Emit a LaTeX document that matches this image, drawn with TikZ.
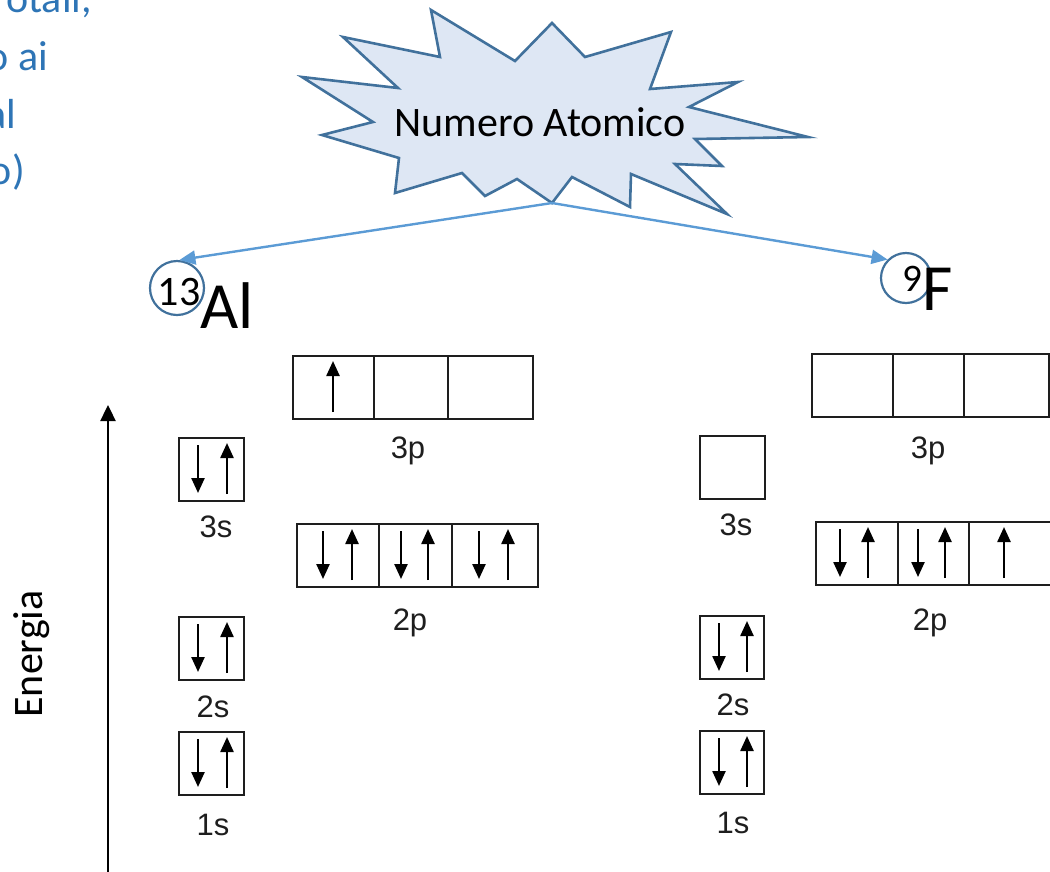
\documentclass[tikz,border=0pt]{standalone}
\usepackage{fontspec}
\setmainfont{Carlito}
\newfontfamily\arialf{Liberation Sans}
\usetikzlibrary{arrows.meta,calc}
\definecolor{bluetxt}{HTML}{2E75B6}
\definecolor{starfill}{HTML}{DEE7F4}
\definecolor{stardraw}{HTML}{41719C}
\definecolor{arrowblue}{HTML}{5B9BD5}
\definecolor{boxline}{HTML}{1E1E1E}
\newcommand\spindn[2]{\draw[spin] (#1,#2+8) -- (#1,#2+56);}
\newcommand\spinup[2]{\draw[spin] (#1,#2+57) -- (#1,#2+6);}
\begin{document}
\begin{tikzpicture}[x=1pt,y=-1pt,
  orb/.style={draw=boxline,line width=2.2pt,inner sep=0pt,anchor=north west,minimum height=63pt},
  lbl/.style={font=\arialf\fontsize{31}{36}\selectfont,text=boxline,inner sep=0pt,anchor=base},
  spin/.style={draw=black,line width=2.4pt,-{Triangle[width=13pt,length=15pt]}},
  conn/.style={draw=arrowblue,line width=2.4pt,-{Triangle[width=14pt,length=16pt]}},
  axisarrow/.style={draw=black,line width=2.4pt,-{Triangle[width=15pt,length=16pt]}},
  side/.style={font=\fontsize{42}{50}\selectfont,text=bluetxt,inner sep=0pt,anchor=base east},
  ring/.style={circle,draw=stardraw,line width=2.2pt,inner sep=0pt},
  big/.style={font=\fontsize{66}{78}\selectfont,inner sep=0pt,anchor=base west}]
\path[use as bounding box] (0,0) rectangle (1050,871);
\clip (0,0) rectangle (1050,871);

% cut-off side text
\node[side] (s1) at (92,12) {otali,};
\node[side] (s2) at (48,70) {o ai};
\node[side] (s3) at (16,128) {al};
\node[side] (s4) at (25,184) {o)};

% starburst
\draw[fill=starfill,draw=stardraw,line width=2.6pt,line join=miter]
 (302,77) -- (398,88) -- (343,37) -- (440,57) -- (431,10) -- (515,61) -- (552,23) -- (585,57)
 -- (671,32) -- (650,89) -- (738,82) -- (689,107) -- (808,137) -- (695,139) -- (722,166)
 -- (675,164) -- (727,214) -- (631,174) -- (630,207) -- (572,177) -- (552,203) -- (517,179)
 -- (485,196) -- (462,173) -- (395,193) -- (399,158) -- (322,135) -- (373,122) -- cycle;
\node[font=\fontsize{42}{48}\selectfont,inner sep=0pt] (na) at (540,122) {Numero Atomico};
\coordinate (sb) at (552,203);

% element symbols
\node[ring,minimum size=54pt] (c13) at (177,288) {};
\node[font=\fontsize{42}{48}\selectfont,inner sep=0pt] (t13) at (179,292) {13};
\node[big] (al) at (200,328) {Al};
\node[ring,minimum size=50pt] (c9) at (906,278) {};
\node[font=\fontsize{39}{44}\selectfont,inner sep=0pt] (t9) at (912,279) {9};
\node[big] (f) at (922,310) {F};

\draw[conn] (sb) -- (c13.85);
\draw[conn] (sb) -- (c9.135);

% energy axis
\coordinate (eb) at (108,880);
\coordinate (et) at (108,405);
\draw[axisarrow] (eb) -- (et);
\node[font=\fontsize{42}{48}\selectfont,inner sep=0pt,anchor=base,rotate=90] (en) at (42,654) {Energia};

% ---------- Al ----------
\node[orb,minimum width=81pt] (a3p1) at (292,355) {};
\node[orb,minimum width=74pt] (a3p2) at (373,355) {};
\node[orb,minimum width=85pt] (a3p3) at (447,355) {};
\spinup{333}{355}
\node[lbl] (a3pl) at (408,458) {3p};

\node[orb,minimum width=65pt] (a3s) at (178,437) {};
\spindn{198}{437}\spinup{227}{437}
\node[lbl] (a3sl) at (216,537) {3s};

\node[orb,minimum width=82pt] (a2p1) at (296,523) {};
\node[orb,minimum width=73pt] (a2p2) at (378,523) {};
\node[orb,minimum width=86pt] (a2p3) at (451,523) {};
\spindn{323}{523}\spinup{352}{523}
\spindn{401}{523}\spinup{428}{523}
\spindn{479}{523}\spinup{508}{523}
\node[lbl] (a2pl) at (410,630) {2p};

\node[orb,minimum width=65pt] (a2s) at (178,616) {};
\spindn{198}{616}\spinup{227}{616}
\node[lbl] (a2sl) at (213,717) {2s};

\node[orb,minimum width=65pt] (a1s) at (178,731) {};
\spindn{198}{731}\spinup{227}{731}
\node[lbl] (a1sl) at (213,835) {1s};

% ---------- F ----------
\node[orb,minimum width=81pt] (f3p1) at (811,353) {};
\node[orb,minimum width=71pt] (f3p2) at (892,353) {};
\node[orb,minimum width=85pt] (f3p3) at (963,353) {};
\node[lbl] (f3pl) at (928,458) {3p};

\node[orb,minimum width=65pt] (f3s) at (699,435) {};
\node[lbl] (f3sl) at (736,535) {3s};

\node[orb,minimum width=82pt] (f2p1) at (815,521) {};
\node[orb,minimum width=71pt] (f2p2) at (897,521) {};
\node[orb,minimum width=90pt] (f2p3) at (968,521) {};
\spindn{840}{521}\spinup{868}{521}
\spindn{918}{521}\spinup{945}{521}
\spinup{1004}{521}
\node[lbl] (f2pl) at (930,630) {2p};

\node[orb,minimum width=64pt] (f2s) at (699,615) {};
\spindn{719}{615}\spinup{747}{615}
\node[lbl] (f2sl) at (733,715) {2s};

\node[orb,minimum width=64pt] (f1s) at (699,730) {};
\spindn{719}{730}\spinup{747}{730}
\node[lbl] (f1sl) at (733,833) {1s};
\end{tikzpicture}
\end{document}
